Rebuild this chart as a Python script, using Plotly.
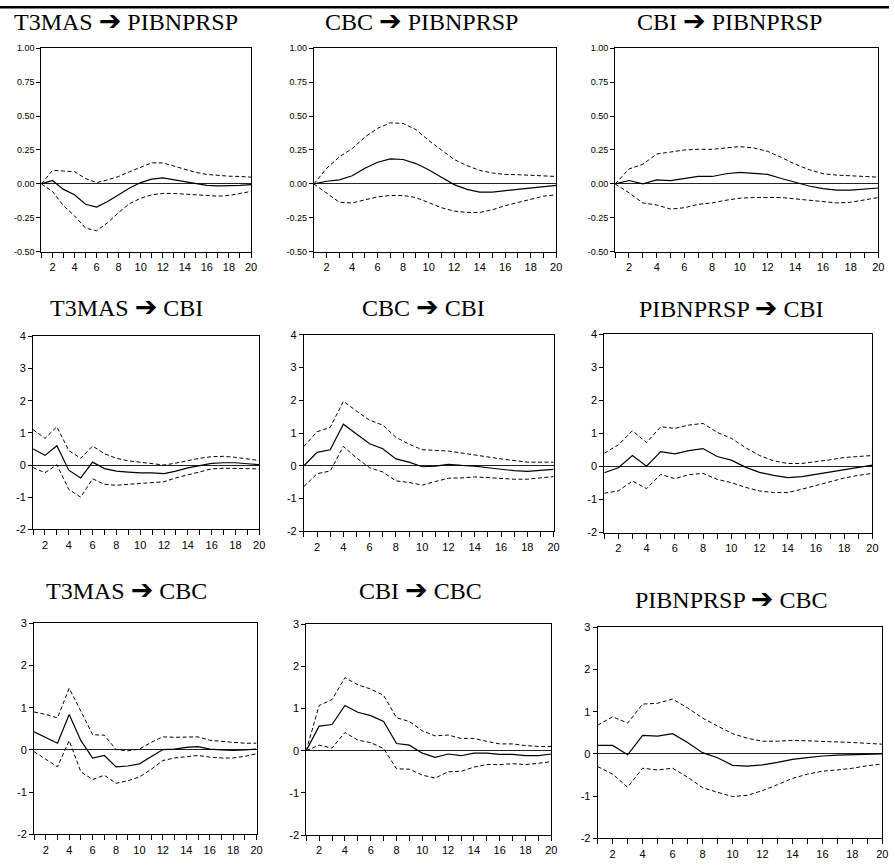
import plotly.graph_objects as go

W, H = 895, 867

periods = [1, 2, 3, 4, 5, 6, 7, 8, 9, 10, 11, 12, 13, 14, 15, 16, 17, 18, 19, 20]
x_tick_labels = ["", "2", "", "4", "", "6", "", "8", "", "10", "", "12", "", "14", "", "16", "", "18", "", "20"]

ARROW = "<span style='font-family:DejaVu Sans;font-size:27px'>➔</span>"
titles = [f"T3MAS {ARROW} PIBNPRSP", f"CBC {ARROW} PIBNPRSP", f"CBI {ARROW} PIBNPRSP",
          f"T3MAS {ARROW} CBI", f"CBC {ARROW} CBI", f"PIBNPRSP {ARROW} CBI",
          f"T3MAS {ARROW} CBC", f"CBI {ARROW} CBC", f"PIBNPRSP {ARROW} CBC"]

row1_ticks = [-0.5, -0.25, 0.0, 0.25, 0.5, 0.75, 1.0]
row1_labels = ["-0.50", "-0.25", "0.00", "0.25", "0.50", "0.75", "1.00"]
row2_ticks = [-2, -1, 0, 1, 2, 3, 4]
row2_labels = ["-2", "-1", "0", "1", "2", "3", "4"]
row3_ticks = [-2, -1, 0, 1, 2, 3]
row3_labels = ["-2", "-1", "0", "1", "2", "3"]

# Panel 1: T3MAS -> PIBNPRSP
p1_resp = [0.0, 0.025, -0.04, -0.08, -0.15, -0.17, -0.13, -0.08, -0.03, 0.01, 0.035, 0.045, 0.03, 0.015, 0.0, -0.01, -0.015, -0.015, -0.01, -0.005]
p1_upper = [0.0, 0.1, 0.095, 0.09, 0.04, 0.01, 0.03, 0.055, 0.09, 0.125, 0.155, 0.155, 0.13, 0.105, 0.085, 0.07, 0.062, 0.057, 0.055, 0.05]
p1_lower = [0.0, -0.055, -0.16, -0.235, -0.325, -0.345, -0.285, -0.21, -0.145, -0.105, -0.08, -0.07, -0.07, -0.075, -0.085, -0.09, -0.09, -0.085, -0.07, -0.055]
# Panel 2: CBC -> PIBNPRSP
p2_resp = [0.0, 0.02, 0.03, 0.06, 0.115, 0.16, 0.185, 0.18, 0.15, 0.105, 0.05, -0.005, -0.04, -0.06, -0.06, -0.05, -0.04, -0.025, -0.015, -0.01]
p2_upper = [0.0, 0.115, 0.2, 0.26, 0.345, 0.41, 0.45, 0.445, 0.4, 0.32, 0.25, 0.18, 0.135, 0.1, 0.08, 0.07, 0.068, 0.063, 0.058, 0.055]
p2_lower = [0.0, -0.07, -0.135, -0.14, -0.115, -0.095, -0.085, -0.085, -0.1, -0.14, -0.175, -0.2, -0.21, -0.21, -0.19, -0.16, -0.135, -0.11, -0.09, -0.08]
# Panel 3: CBI -> PIBNPRSP
p3_resp = [0.0, 0.025, 0.0, 0.03, 0.025, 0.04, 0.055, 0.055, 0.075, 0.085, 0.08, 0.07, 0.04, 0.01, -0.015, -0.035, -0.045, -0.045, -0.04, -0.03]
p3_upper = [0.0, 0.11, 0.145, 0.22, 0.235, 0.25, 0.255, 0.255, 0.265, 0.275, 0.265, 0.24, 0.195, 0.145, 0.105, 0.075, 0.065, 0.058, 0.055, 0.05]
p3_lower = [0.0, -0.065, -0.14, -0.155, -0.185, -0.175, -0.15, -0.14, -0.12, -0.105, -0.1, -0.1, -0.1, -0.11, -0.12, -0.135, -0.14, -0.135, -0.12, -0.1]
# Panel 4: T3MAS -> CBI
p4_resp = [0.5, 0.3, 0.6, -0.16, -0.4, 0.09, -0.11, -0.19, -0.22, -0.245, -0.245, -0.265, -0.19, -0.09, -0.02, 0.05, 0.07, 0.07, 0.04, 0.01]
p4_upper = [1.1, 0.83, 1.19, 0.45, 0.21, 0.59, 0.35, 0.21, 0.13, 0.08, 0.04, 0.0, 0.06, 0.14, 0.21, 0.26, 0.27, 0.24, 0.19, 0.14]
p4_lower = [-0.08, -0.24, 0.01, -0.76, -1.0, -0.43, -0.6, -0.63, -0.6, -0.57, -0.55, -0.52, -0.4, -0.3, -0.2, -0.12, -0.1, -0.1, -0.11, -0.12]
# Panel 5: CBC -> CBI
p5_resp = [0.0, 0.41, 0.49, 1.27, 0.97, 0.67, 0.52, 0.21, 0.11, -0.03, -0.01, 0.04, 0.01, -0.01, -0.06, -0.11, -0.15, -0.17, -0.14, -0.11]
p5_upper = [0.59, 1.04, 1.17, 1.97, 1.67, 1.39, 1.24, 0.87, 0.66, 0.49, 0.47, 0.45, 0.39, 0.34, 0.27, 0.21, 0.15, 0.11, 0.11, 0.11]
p5_lower = [-0.63, -0.24, -0.16, 0.59, 0.24, -0.06, -0.19, -0.46, -0.51, -0.59, -0.48, -0.38, -0.37, -0.34, -0.36, -0.39, -0.41, -0.41, -0.38, -0.33]
# Panel 6: PIBNPRSP -> CBI
p6_resp = [-0.19, -0.04, 0.33, 0.01, 0.45, 0.38, 0.48, 0.54, 0.3, 0.19, -0.02, -0.18, -0.27, -0.34, -0.31, -0.24, -0.17, -0.09, -0.02, 0.04]
p6_upper = [0.4, 0.65, 1.08, 0.72, 1.2, 1.15, 1.25, 1.3, 1.03, 0.85, 0.57, 0.33, 0.17, 0.09, 0.09, 0.14, 0.2, 0.27, 0.31, 0.33]
p6_lower = [-0.81, -0.74, -0.44, -0.67, -0.24, -0.37, -0.25, -0.21, -0.39, -0.49, -0.63, -0.74, -0.79, -0.79, -0.69, -0.57, -0.45, -0.35, -0.27, -0.21]
# Panel 7: T3MAS -> CBC
p7_resp = [0.43, 0.3, 0.16, 0.84, 0.22, -0.19, -0.13, -0.4, -0.38, -0.33, -0.15, 0.01, 0.02, 0.06, 0.08, 0.02, 0.0, -0.01, 0.0, 0.02]
p7_upper = [0.9, 0.84, 0.76, 1.46, 0.92, 0.36, 0.35, 0.01, -0.02, 0.02, 0.18, 0.31, 0.3, 0.31, 0.31, 0.23, 0.2, 0.18, 0.16, 0.16]
p7_lower = [-0.04, -0.21, -0.4, 0.22, -0.52, -0.7, -0.6, -0.79, -0.73, -0.64, -0.46, -0.25, -0.19, -0.16, -0.13, -0.17, -0.19, -0.19, -0.15, -0.09]
# Panel 8: CBI -> CBC
p8_resp = [0.0, 0.58, 0.62, 1.07, 0.91, 0.83, 0.69, 0.17, 0.13, -0.06, -0.16, -0.08, -0.12, -0.06, -0.06, -0.09, -0.09, -0.12, -0.12, -0.08]
p8_upper = [0.0, 1.07, 1.21, 1.73, 1.56, 1.46, 1.31, 0.78, 0.69, 0.47, 0.35, 0.37, 0.29, 0.29, 0.22, 0.16, 0.16, 0.12, 0.1, 0.1]
p8_lower = [0.0, 0.13, 0.06, 0.43, 0.25, 0.19, 0.05, -0.43, -0.44, -0.58, -0.65, -0.5, -0.49, -0.39, -0.33, -0.33, -0.31, -0.33, -0.3, -0.26]
# Panel 9: PIBNPRSP -> CBC
p9_resp = [0.2, 0.2, -0.02, 0.44, 0.42, 0.48, 0.27, 0.03, -0.09, -0.27, -0.29, -0.26, -0.2, -0.13, -0.09, -0.05, -0.03, -0.02, -0.01, 0.0]
p9_upper = [0.68, 0.88, 0.73, 1.18, 1.2, 1.3, 1.09, 0.85, 0.66, 0.48, 0.37, 0.3, 0.3, 0.32, 0.31, 0.3, 0.29, 0.27, 0.25, 0.23]
p9_lower = [-0.3, -0.48, -0.79, -0.34, -0.38, -0.34, -0.55, -0.8, -0.91, -1.01, -0.98, -0.87, -0.73, -0.58, -0.48, -0.41, -0.38, -0.34, -0.28, -0.24]

responses = [p1_resp, p2_resp, p3_resp, p4_resp, p5_resp, p6_resp, p7_resp, p8_resp, p9_resp]
uppers = [p1_upper, p2_upper, p3_upper, p4_upper, p5_upper, p6_upper, p7_upper, p8_upper, p9_upper]
lowers = [p1_lower, p2_lower, p3_lower, p4_lower, p5_lower, p6_lower, p7_lower, p8_lower, p9_lower]

# layout (pixel boxes: left, right, top, bottom)
boxes = [
    (41.7, 252.7, 42.7, 249.3), (316, 560, 42.7, 249.3), (619.3, 884.3, 42.7, 249.3),
    (33.3, 261, 335, 530.7), (306, 557.3, 333.3, 532.7), (608.3, 878.3, 332.7, 534),
    (34.3, 258.3, 626, 840), (308.3, 555, 626.7, 840.7), (601.7, 888.3, 630, 844),
]
title_pos = [(126.5, 15), (424, 15), (734, 15),
             (127, 305), (426, 305), (736, 305.5),
             (127.5, 591.5), (423.5, 591.5), (736, 601)]

fig = go.Figure()
sans = "Liberation Sans, Arial, sans-serif"
serif = "Liberation Serif, Times New Roman, serif"

for i in range(9):
    n = i + 1
    xa = "x" if n == 1 else f"x{n}"
    ya = "y" if n == 1 else f"y{n}"
    for ser, dash, w in ((uppers[i], "4px,2.5px", 1), (lowers[i], "4px,2.5px", 1), (responses[i], "solid", 1.2)):
        fig.add_trace(go.Scatter(x=periods, y=ser, mode="lines", xaxis=xa, yaxis=ya,
                                 line=dict(color="black", width=w, dash=dash),
                                 showlegend=False, hoverinfo="skip"))
    l, r, t, b = boxes[i]
    row = i // 3
    if row == 0:
        yr, tv, tt, yfs = [-0.5, 1.0], row1_ticks, row1_labels, 9
    elif row == 1:
        yr, tv, tt, yfs = [-2, 4], row2_ticks, row2_labels, 11
    else:
        yr, tv, tt, yfs = [-2, 3], row3_ticks, row3_labels, 11
    xkey = "xaxis" if n == 1 else f"xaxis{n}"
    ykey = "yaxis" if n == 1 else f"yaxis{n}"
    fig.update_layout(**{
        xkey: dict(domain=[l / W, r / W], anchor=ya, range=[1, 20],
                   tickvals=periods, ticktext=x_tick_labels, ticks="outside", ticklen=5,
                   tickwidth=1, tickcolor="black", showline=True, linecolor="black",
                   linewidth=1, mirror=True, showgrid=False, zeroline=False,
                   tickfont=dict(family=sans, size=11, color="black")),
        ykey: dict(domain=[1 - b / H, 1 - t / H], anchor=xa, range=yr,
                   tickvals=tv, ticktext=tt, ticks="outside", ticklen=4, tickwidth=1,
                   tickcolor="black", showline=True, linecolor="black", linewidth=1,
                   mirror=True, showgrid=False, zeroline=True, zerolinecolor="#222",
                   zerolinewidth=1, tickfont=dict(family=sans, size=yfs, color="black")),
    })
    cx, cy = title_pos[i]
    fig.add_annotation(text=titles[i], x=cx / W, y=1 - cy / H, xref="paper", yref="paper",
                       xanchor="center", yanchor="middle", showarrow=False,
                       font=dict(family=serif, size=24, color="black"))

fig.add_shape(type="rect", xref="paper", yref="paper", x0=0, x1=1, y0=1 - 2.5 / H, y1=1,
              fillcolor="black", line=dict(width=0))

fig.update_layout(width=W, height=H, margin=dict(l=0, r=0, t=0, b=0),
                  paper_bgcolor="white", plot_bgcolor="white")
fig.write_html("out.html")
